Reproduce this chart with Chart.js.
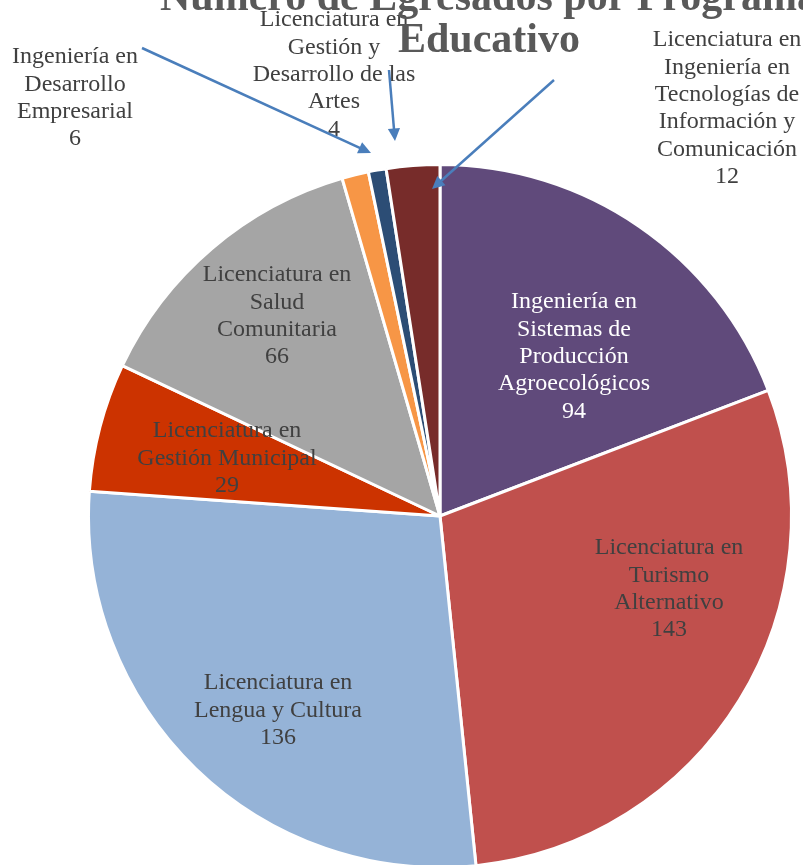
<!DOCTYPE html>
<html>
<head>
<meta charset="utf-8">
<script src="https://cdn.jsdelivr.net/npm/chart.js@4"></script>
<style>
  html, body { margin: 0; padding: 0; background: #fff; overflow: hidden; }
  canvas { display: block; }
</style>
</head>
<body>
<canvas id="chart" width="803" height="869"></canvas>
<script>
const programas = [
    ['Ingeniería en', 'Sistemas de', 'Producción', 'Agroecológicos'],
    ['Licenciatura en', 'Turismo', 'Alternativo'],
    ['Licenciatura en', 'Lengua y Cultura'],
    ['Licenciatura en', 'Gestión Municipal'],
    ['Licenciatura en', 'Salud', 'Comunitaria'],
    ['Ingeniería en', 'Desarrollo', 'Empresarial'],
    ['Licenciatura en', 'Gestión y', 'Desarrollo de las', 'Artes'],
    ['Licenciatura en', 'Ingeniería en', 'Tecnologías de', 'Información y', 'Comunicación']
];
const egresados = [94, 143, 136, 29, 66, 6, 4, 12];
const colores = ['#604A7B', '#C0504D', '#95B3D7', '#CC3300', '#A5A5A5', '#F79646', '#2C4D75', '#772C2A'];
const titulo = ['Número de Egresados por Programa', 'Educativo'];

// where each label block sits (centre x, first line y) and the text colour
const labelPos = [
    { x: 574, y: 302, color: '#FFFFFF' },
    { x: 669, y: 548, color: '#404040' },
    { x: 278, y: 683, color: '#404040' },
    { x: 227, y: 431, color: '#404040' },
    { x: 277, y: 275, color: '#404040' },
    { x: 75, y: 57, color: '#404040' },
    { x: 334, y: 20, color: '#404040' },
    { x: 727, y: 40, color: '#404040' }
];
// leader arrows for the small slices: [from, to]
const arrows = {
    5: [[142, 48], [371, 153]],
    6: [[389, 70], [395, 141]],
    7: [[554, 80], [432, 189]]
};

const FONT = "'Liberation Serif', 'Times New Roman', serif";

function drawArrow(ctx, x1, y1, x2, y2) {
    const ang = Math.atan2(y2 - y1, x2 - x1);
    const head = 14;
    ctx.save();
    ctx.strokeStyle = '#4A7EBB';
    ctx.fillStyle = '#4A7EBB';
    ctx.lineWidth = 2.5;
    ctx.beginPath();
    ctx.moveTo(x1, y1);
    ctx.lineTo(x2 - Math.cos(ang) * head * 0.8, y2 - Math.sin(ang) * head * 0.8);
    ctx.stroke();
    ctx.beginPath();
    ctx.moveTo(x2, y2);
    ctx.lineTo(x2 - head * Math.cos(ang - 0.45), y2 - head * Math.sin(ang - 0.45));
    ctx.lineTo(x2 - head * Math.cos(ang + 0.45), y2 - head * Math.sin(ang + 0.45));
    ctx.closePath();
    ctx.fill();
    ctx.restore();
}

const etiquetas = {
    id: 'etiquetas',
    afterDatasetsDraw(chart) {
        const ctx = chart.ctx;
        ctx.save();
        ctx.textAlign = 'center';
        ctx.textBaseline = 'middle';
        ctx.font = '24px ' + FONT;
        programas.forEach((lines, i) => {
            const p = labelPos[i];
            ctx.fillStyle = p.color;
            const all = lines.concat(String(egresados[i]));
            all.forEach((t, k) => ctx.fillText(t, p.x, p.y + k * 27.4));
        });
        ctx.restore();
        Object.keys(arrows).forEach(k => {
            const a = arrows[k];
            drawArrow(ctx, a[0][0], a[0][1], a[1][0], a[1][1]);
        });
        // title, partly above the top edge as in the original
        ctx.save();
        ctx.fillStyle = '#595959';
        ctx.textAlign = 'center';
        ctx.textBaseline = 'alphabetic';
        ctx.font = 'bold 42px ' + FONT;
        titulo.forEach((t, k) => ctx.fillText(t, 489, 10 + k * 42));
        ctx.restore();
    }
};

new Chart(document.getElementById('chart'), {
    type: 'pie',
    data: {
        labels: programas.map(l => l.join(' ')),
        datasets: [{
            data: egresados,
            backgroundColor: colores,
            borderColor: '#FFFFFF',
            borderWidth: 3
        }]
    },
    options: {
        responsive: false,
        animation: false,
        layout: { padding: { left: 87, right: 10, top: 163, bottom: 0 } },
        plugins: {
            legend: { display: false },
            tooltip: { enabled: false },
            title: { display: false }
        }
    },
    plugins: [etiquetas]
});
</script>
</body>
</html>
